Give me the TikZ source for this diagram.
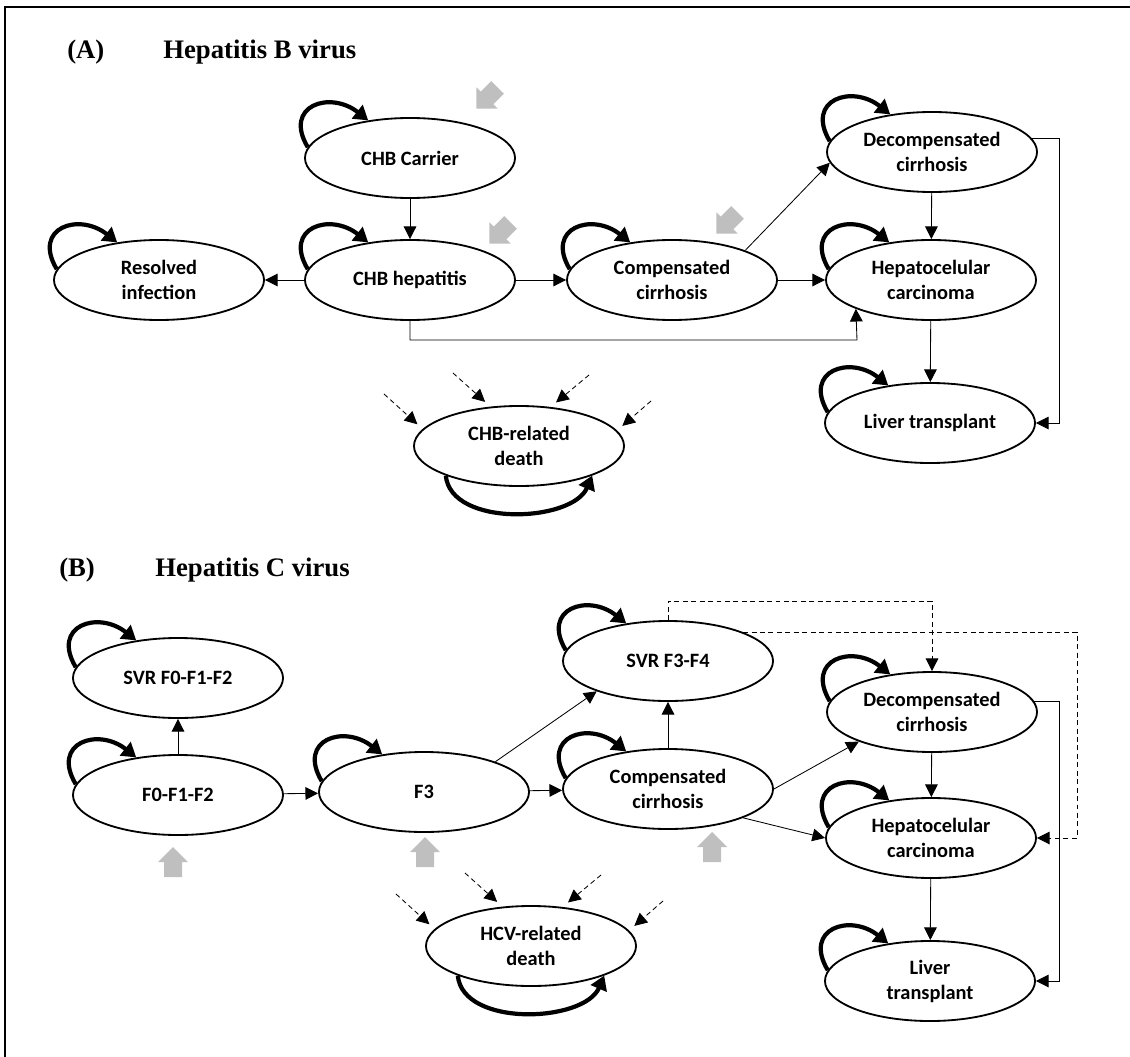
\documentclass[tikz,border=0pt]{standalone}
\usepackage{fontspec}
\setmainfont{Liberation Serif}
\newfontfamily\statefont{Carlito}
\usetikzlibrary{calc,arrows.meta,shapes.geometric}
\tikzset{state/.style={ellipse,draw,line width=1.3pt,minimum width=5.25cm,minimum height=2cm,
    inner sep=1pt,align=center,font=\statefont\bfseries\fontsize{14.5}{17.7}\selectfont},
    heading/.style={anchor=west,inner sep=0pt,font=\bfseries\fontsize{19}{22}\selectfont},
    selfloop/.style={line width=3pt,-{Triangle[length=10pt,width=12pt]},to path={(\tikztostart)
    .. controls ($(\tikztostart)+(-25,-42)$) and ($(\tikztotarget)+(-38,-30)$)
    .. (\tikztotarget)}},
    deathloop/.style={line width=3pt,-{Triangle[length=10pt,width=12pt]},to path={(\tikztostart)
    .. controls ($(\tikztostart)+(5,52)$) and ($(\tikztotarget)+(-20,47)$)
    .. (\tikztotarget)}},
    greyarrow/.pic={\fill[black!25] (0,-15) -- (15,0) -- (9,0) -- (9,15) -- (-9,15)
    -- (-9,0) -- (-15,0) -- cycle;}}

\begin{document}
\begin{tikzpicture}[x=0.025cm,y=-0.025cm,
        conn/.style={line width=0.6pt,-{Triangle[length=9pt,width=9pt]}},
        deathin/.style={conn,dash pattern=on 3.5pt off 2.5pt,shorten >=5pt}]
        \useasboundingbox (0,0) rectangle (1130,1057);
        \draw[line width=1.4pt] (5,1057) -- (5,7) -- (1130,7);

        \node[heading] (tagA) at (67,52) {(A)};
        \node[heading] (nameA) at (163,52) {Hepatitis B virus};

        \node[state] (carrier) at (410,158) {CHB Carrier};
        \node[state] (hepB) at (410,280) {CHB hepatitis};
        \node[state] (resolved) at (159,280) {Resolved\\infection};
        \node[state] (compA) at (672,280) {Compensated\\cirrhosis};
        \node[state] (decompA) at (932,152) {Decompensated\\cirrhosis};
        \node[state] (hccA) at (931,280) {Hepatocelular\\carcinoma};
        \node[state] (ltA) at (930,423) {Liver transplant};
        \node[state] (deathA) at (519,446) {CHB-related\\death};
        \coordinate (bendA) at (857,340);

        \path[conn]
        (carrier) edge (hepB)
        (hepB) edge (resolved)
        (hepB) edge (compA)
        (compA) edge (hccA)
        (compA.22) edge (decompA.186)
        (decompA) edge (hccA)
        (hccA) edge (ltA);
        \draw[conn] (hepB.south) |- (bendA) -- (hccA.201);
        \draw[conn] (decompA.8) -- ++(28,0) |- (ltA.east);

        \path (487,98) pic[rotate=135] {greyarrow};
        \path (500,233) pic[rotate=135] {greyarrow};
        \path (727,223) pic[rotate=135] {greyarrow};

        \node[heading] (tagB) at (59,570) {(B)};
        \node[heading] (nameB) at (155,570) {Hepatitis C virus};

        \node[state] (svr012) at (178,678) {SVR F0-F1-F2};
        \node[state] (f012) at (178,795) {F0-F1-F2};
        \node[state] (f3) at (424,792) {F3};
        \node[state] (svr34) at (668,661) {SVR F3-F4};
        \node[state] (compB) at (668,789) {Compensated\\cirrhosis};
        \node[state] (decompB) at (932,712) {Decompensated\\cirrhosis};
        \node[state] (hccB) at (931,838) {Hepatocelular\\carcinoma};
        \node[state] (ltB) at (930,981) {Liver\\transplant};
        \node[state] (deathB) at (531,946) {HCV-related\\death};
        \coordinate (dashR) at (1077,838);

        \path[conn]
        (f012) edge (svr012)
        (f012) edge (f3)
        (f3) edge (compB)
        (f3.23) edge (svr34.203)
        (compB) edge (svr34)
        (compB.east) edge (decompB.202)
        (compB.339) edge (hccB.west)
        (decompB) edge (hccB)
        (hccB) edge (ltB);
        \draw[conn] (decompB.6) -- ++(25,0) |- (ltB.east);
        \draw[conn,dash pattern=on 3.5pt off 2.5pt] (svr34.north) -- ++(0,-19) -| (decompB.north);
        \draw[conn,dash pattern=on 3.5pt off 2.5pt] (svr34.21) -| (dashR) |- (hccB.east);

        \path (173,862) pic {greyarrow};
        \path (425,852) pic {greyarrow};
        \path (712,847) pic {greyarrow};

        \foreach \n in {carrier,hepB,resolved,compA,decompA,hccA,ltA,
                svr012,f012,f3,svr34,compB,decompB,hccB,ltB}
                \draw[selfloop] (\n.174) to (\n.138);
        \draw[deathloop] (deathA.202) to (deathA.338);
        \draw[deathloop] (deathB.202) to (deathB.338);

        \foreach \dx/\dy/\ang [count=\i] in {-135/-52/170,-66/-73/126,70/-71/51,132/-45/9}{
                \coordinate (inA\i) at ($(deathA)+(\dx,\dy)$);
                \coordinate (inB\i) at ($(deathB)+(\dx,\dy)$);
                \draw[deathin] (inA\i) -- (deathA.\ang);
                \draw[deathin] (inB\i) -- (deathB.\ang);
        }
\end{tikzpicture}
\end{document}
